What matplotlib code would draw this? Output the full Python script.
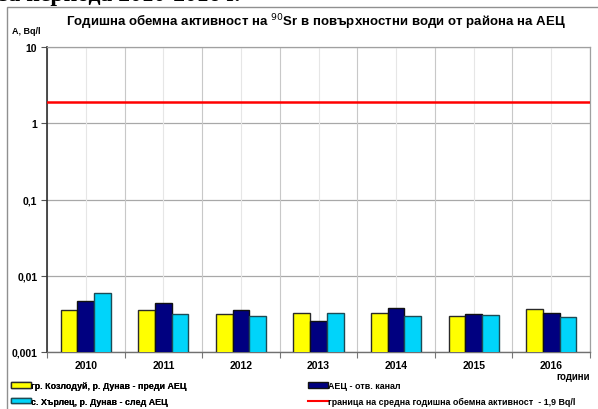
import numpy as np
import matplotlib
matplotlib.use("Agg")
import matplotlib.pyplot as plt
from matplotlib.patches import Patch, Rectangle
from matplotlib.lines import Line2D
from matplotlib.ticker import FixedLocator, FixedFormatter, NullFormatter

plt.rcParams['font.family'] = ['Liberation Sans', 'DejaVu Sans']

years = ['2010', '2011', '2012', '2013', '2014', '2015', '2016']
kozloduy = [0.00356, 0.00352, 0.00318, 0.00322, 0.00325, 0.00294, 0.00363]
npp_channel = [0.00467, 0.00435, 0.00359, 0.00255, 0.00381, 0.00318, 0.00328]
harlets = [0.00594, 0.00318, 0.00297, 0.00328, 0.00297, 0.00308, 0.00288]
limit = 1.9

yticks = [0.001, 0.01, 0.1, 1, 10]
ylabels = ['0,001', '0,01', '0,1', '1', '10']

W, H = 598, 410
fig = plt.figure(figsize=(W / 100, H / 100), dpi=100)
ax = fig.add_axes([47 / W, (H - 353) / H, (590 - 47) / W, (353 - 48) / H])

x = np.arange(len(years))
bw = 0.215
ax.bar(x - bw, kozloduy, bw, color='#FFFF00', edgecolor='#2a2a2a', linewidth=1, zorder=3)
ax.bar(x, npp_channel, bw, color='#000080', edgecolor='#111111', linewidth=1, zorder=3)
ax.bar(x + bw, harlets, bw, color='#00D4FA', edgecolor='#1d4b55', linewidth=1, zorder=3)
ax.axhline(limit, color='#FF0000', lw=1.8, zorder=4)

ax.set_yscale('log')
ax.set_ylim(0.001, 10)
ax.set_xlim(-0.5, len(years) - 0.5)

ax.yaxis.set_major_locator(FixedLocator(yticks))
ax.yaxis.set_major_formatter(FixedFormatter(ylabels))
ax.yaxis.set_minor_locator(FixedLocator([]))
ax.yaxis.set_minor_formatter(NullFormatter())
ax.tick_params(axis='y', which='major', length=4, width=0.8, color='#555555',
               labelsize=7.5, pad=3)
for lab in ax.get_yticklabels():
    lab.set_fontweight('bold')

bounds = np.arange(-0.5, len(years), 1.0)
ax.set_xticks(bounds)
ax.set_xticklabels([''] * len(bounds))
ax.set_xticks(x, minor=True)
ax.set_xticklabels(years, minor=True, fontsize=7.5, fontweight='bold')
ax.tick_params(axis='x', which='major', length=4, width=0.8, color='#777777')
ax.tick_params(axis='x', which='minor', length=0, pad=6)

for yv in yticks:
    ax.axhline(yv, color='#a8a8a8', lw=0.9, zorder=1)
for b in bounds:
    ax.axvline(b, color='#c8c8c8', lw=0.8, zorder=1)
for c in x:
    ax.axvline(c, color='#e6e6e6', lw=0.8, zorder=1)

for s in ['top', 'right']:
    ax.spines[s].set_color('#a0a0a0')
    ax.spines[s].set_linewidth(0.9)
ax.spines['left'].set_color('#303030')
ax.spines['left'].set_linewidth(1.2)
ax.spines['bottom'].set_color('#707070')
ax.spines['bottom'].set_linewidth(1.0)

# outer frame and texts
fig.patches.append(Rectangle((7 / W, -0.1), 1.2, (H - 8) / H + 0.1,
                             transform=fig.transFigure, fill=False,
                             edgecolor='#909090', lw=1.0))
# heading of the page above the chart, mostly cut off by the crop
fig.text(-1 / W, (H - 1) / H, 'за периода 2010-2016 г.', family='Liberation Serif',
         fontsize=17, fontweight='bold', va='baseline', ha='left')
fig.text(316 / W, (H - 22) / H,
         'Годишна обемна активност на $^{90}$Sr в повърхностни води от района на АЕЦ',
         fontsize=9.5, fontweight='bold', ha='center', va='center')
fig.text(12 / W, (H - 31) / H, 'A, Bq/l', fontsize=6.5, fontweight='bold',
         ha='left', va='center')
fig.text(590 / W, (H - 377) / H, 'години', fontsize=7, fontweight='bold',
         ha='right', va='center')

h1 = [Patch(facecolor='#FFFF00', edgecolor='#2a2a2a'),
      Patch(facecolor='#00D4FA', edgecolor='#1d4b55')]
l1 = ['гр. Козлодуй, р. Дунав - преди АЕЦ', 'с. Хърлец, р. Дунав - след АЕЦ']
h2 = [Patch(facecolor='#000080', edgecolor='#111111'),
      Line2D([], [], color='#FF0000', lw=1.5)]
l2 = ['АЕЦ - отв. канал', 'граница на средна годишна обемна активност  - 1,9 Bq/l']
kw = dict(frameon=False, handlelength=2.2, handleheight=0.6, handletextpad=0.1,
          labelspacing=0.75, borderaxespad=0, borderpad=0,
          prop={'size': 6.4, 'weight': 'bold'})
leg1 = fig.legend(h1, l1, loc='upper left', bbox_to_anchor=(11 / W, (H - 382) / H), **kw)
fig.add_artist(leg1)
fig.legend(h2, l2, loc='upper left', bbox_to_anchor=(308 / W, (H - 382) / H), **kw)

fig.savefig('out.png', dpi=100)
